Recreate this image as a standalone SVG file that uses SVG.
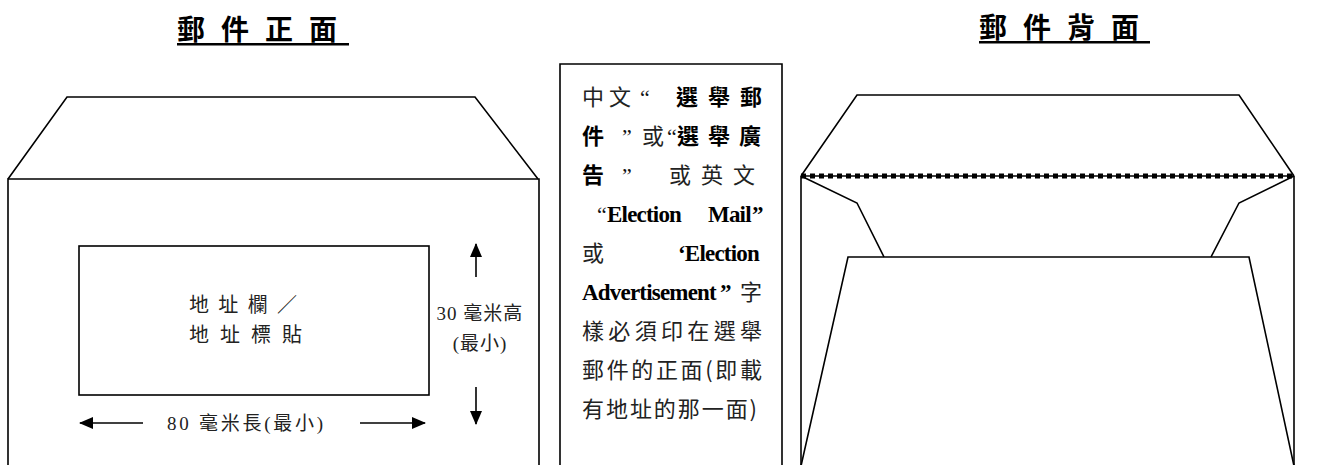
<svg xmlns="http://www.w3.org/2000/svg" width="1332" height="465" viewBox="0 0 1332 465">
<style>
.ln{fill:none;stroke:#000;stroke-width:1.6;stroke-linejoin:miter}
.ttl{font-family:"Noto Sans CJK TC","Noto Sans CJK SC",sans-serif;font-size:28px;font-weight:bold;letter-spacing:16px;fill:#000}
.cj{font-family:"Noto Sans CJK TC",sans-serif;fill:#222;font-size:22px}
.cjb{font-family:"Noto Sans CJK TC",sans-serif;fill:#000;font-size:22px;font-weight:bold}
.en{font-family:"Liberation Serif",serif;font-weight:bold;font-size:23px;letter-spacing:-0.8px;fill:#000}
.q{font-family:"Liberation Serif",serif;font-size:22px;fill:#111}
.lbl{font-family:"Liberation Serif","Noto Sans CJK TC",serif;font-size:19px;fill:#222}
.addr{font-family:"Noto Sans CJK TC",sans-serif;font-size:20px;fill:#222}
</style>
<defs>
<marker id="ah" viewBox="0 0 14 12" refX="13" refY="6" markerWidth="14" markerHeight="12" markerUnits="userSpaceOnUse" orient="auto">
<path d="M0,0 L14,6 L0,12 Z" fill="#000"/>
</marker>
</defs>

<g id="title-front">
<text class="ttl" x="177" y="40">郵件正面</text>
<rect x="177" y="43" width="172" height="2.5" fill="#000"/>
</g>
<g id="title-back">
<text class="ttl" x="979" y="38">郵件背面</text>
<rect x="979" y="41" width="171" height="2.5" fill="#000"/>
</g>

<g id="envelope-front">
<polyline class="ln" points="8,179 67,97 475,97 538,179"/>
<polyline class="ln" points="8,466 8,179 539,179 539,466"/>
</g>

<g id="address-box">
<rect class="ln" x="79" y="246" width="350" height="149"/>
<text class="addr" x="189" y="312" textLength="108" lengthAdjust="spacing">地址欄／</text>
<text class="addr" x="189" y="342" textLength="113" lengthAdjust="spacing">地址標貼</text>
</g>

<g id="height-label">
<text class="lbl" x="480" y="320" text-anchor="middle" style="letter-spacing:1px">30 毫米高</text>
<text class="lbl" x="480" y="350" text-anchor="middle" style="letter-spacing:1px">(最小)</text>
</g>
<g id="width-label">
<text class="lbl" x="167" y="430" textLength="156" lengthAdjust="spacing">80  毫米長(最小)</text>
</g>

<g id="connectors">
<line class="ln" x1="143" y1="423" x2="80" y2="423" marker-end="url(#ah)"/>
<line class="ln" x1="360" y1="423" x2="425" y2="423" marker-end="url(#ah)"/>
<line class="ln" x1="476" y1="277" x2="476" y2="244" marker-end="url(#ah)"/>
<line class="ln" x1="476" y1="387" x2="476" y2="424" marker-end="url(#ah)"/>
</g>

<g id="note-box">
<polyline class="ln" points="560,466 560,64 782,64 782,466"/>
<text y="105"><tspan class="cj" x="582" style="letter-spacing:5px">中文</tspan><tspan class="q" x="640">“</tspan><tspan class="cjb" x="676" style="letter-spacing:10px">選舉郵</tspan></text>
<text y="144"><tspan class="cjb" x="582">件</tspan><tspan class="q" x="622">”</tspan><tspan class="cj" x="642">或</tspan><tspan class="q" x="667">“</tspan><tspan class="cjb" x="677" style="letter-spacing:9px">選舉廣</tspan></text>
<text y="183"><tspan class="cjb" x="582">告</tspan><tspan class="q" x="622">”</tspan><tspan class="cj" x="669" style="letter-spacing:10px">或英文</tspan></text>
<text y="222"><tspan class="q" x="597">“</tspan><tspan class="en" x="607">Election</tspan><tspan class="en" x="708">Mail</tspan><tspan class="en" x="752">”</tspan></text>
<text y="261"><tspan class="cj" x="582">或</tspan><tspan class="en" x="678">‘Election</tspan></text>
<text y="300"><tspan class="en" x="582">Advertisement</tspan><tspan class="en" x="720">”</tspan><tspan class="cj" x="740">字</tspan></text>
<text class="cj" x="582" y="339" textLength="180" lengthAdjust="spacing">樣必須印在選舉</text>
<text class="cj" x="582" y="378" textLength="180" lengthAdjust="spacing">郵件的正面(即載</text>
<text class="cj" x="582" y="417" textLength="175" lengthAdjust="spacing">有地址的那一面)</text>
</g>

<g id="envelope-back">
<polyline class="ln" points="801,176 857,95 1239,95 1294,176"/>
<line class="ln" x1="801" y1="176" x2="801" y2="466"/>
<line class="ln" x1="1294" y1="176" x2="1294" y2="466"/>
<line x1="801" y1="176" x2="1294" y2="176" stroke="#000" stroke-width="1.5"/>
<line x1="801" y1="176" x2="1294" y2="176" stroke="#000" stroke-width="5" stroke-dasharray="5 4"/>
<polyline class="ln" points="801,176 857,203 884,257"/>
<polyline class="ln" points="1294,176 1239,203 1211,257"/>
<polyline class="ln" points="801,466 848,257 1249,257 1294,466"/>
</g>
</svg>
